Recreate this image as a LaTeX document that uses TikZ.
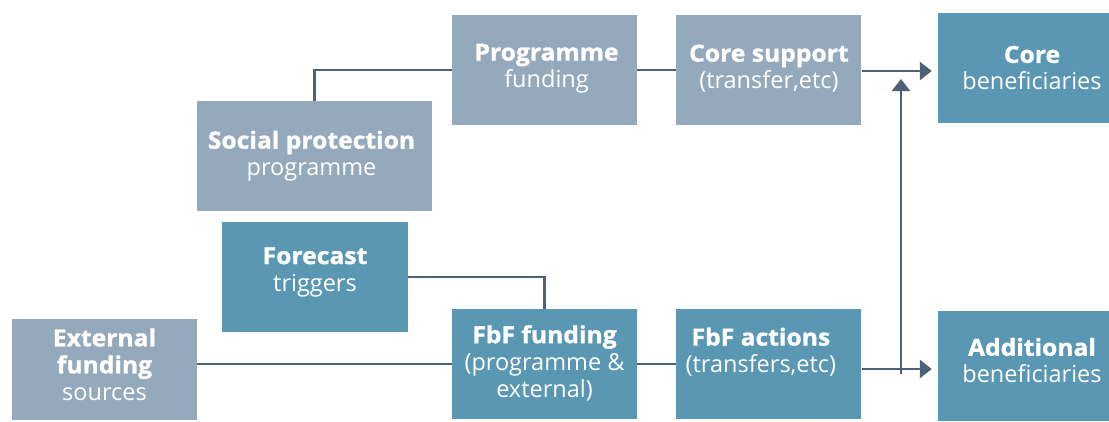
\documentclass[tikz,border=0pt]{standalone}
\usepackage{fontspec}
\setmainfont{Open Sans}[BoldFeatures={FakeBold=1.2,FakeStretch=1.05}]
\usetikzlibrary{positioning,arrows.meta}
\definecolor{greyfill}{HTML}{95A9BC}
\definecolor{tealfill}{HTML}{5A97B3}
\definecolor{linkcol}{HTML}{4F6179}
\tikzset{
  box/.style={rectangle, inner sep=0pt, minimum height=110pt},
  box text/.style={text=white, align=center, inner sep=0pt, font=\fontsize{23.5}{27}\selectfont},
  grey box/.style={box, fill=greyfill, minimum width=185pt},
  teal box/.style={box, fill=tealfill, minimum width=185pt},
  link/.style={draw=linkcol, line width=2.7pt},
  arrow/.style={link, -{Triangle[length=12pt,width=18pt]}}
}
\begin{document}
\begin{tikzpicture}[x=1pt, y=-1pt]
                \useasboundingbox (0,0) rectangle (1109,421);

                % top row
                \node[grey box, minimum width=235pt, label={[box text, xshift=-3pt]center:{\textbf{Social protection}\\programme}}] (sp) at (314.5,156) {};
                \node[grey box, label={[box text, xshift=2pt, yshift=1.5pt]center:{\textbf{Programme}\\funding}}] (pf) at (544.5,70) {};
                \node[grey box, right=39pt of pf, label={[box text, yshift=1.5pt]center:{\textbf{Core support}\\(transfer,etc)}}] (cs) {};
                \node[teal box, minimum width=188pt, label={[box text]center:{\textbf{Core}\\beneficiaries}}] (cb) at (1032,68) {};

                % bottom row
                \node[teal box, minimum width=186pt, label={[box text, yshift=5pt]center:{\textbf{Forecast}\\triggers}}] (ft) at (315,277) {};
                \node[grey box, minimum height=101pt, label={[box text, yshift=5pt]center:{\textbf{External}\\\textbf{funding}\\sources}}] (ef) at (104.5,369.5) {};
                \node[teal box, label={[box text, yshift=1pt]center:{\textbf{FbF funding}\\(programme \&\\external)}}] (ff) at (544.5,364) {};
                \node[teal box, right=39pt of ff, label={[box text, xshift=-8pt, yshift=12pt]center:{\textbf{FbF actions}\\(transfers,etc)}}] (fa) {};
                \node[teal box, minimum width=188pt, label={[box text, yshift=5.5pt]center:{\textbf{Additional}\\beneficiaries}}] (ab) at (1032,366) {};

                \coordinate (join) at (901,369);
                \coordinate (jointop) at (901,79);

                \draw[link] (sp.north) |- (pf.west);
                \draw[link] (pf.east) -- (cs.west);
                \draw[arrow, shorten >=6pt] (cs.east |- 0,71) -- (cb.west |- 0,71);
                \draw[link] (ft.east) -| (ff.north);
                \draw[link] (ef.east |- ff.west) -- (ff.west);
                \draw[link] (ff.east) -- (fa.west);
                \draw[arrow, shorten >=6pt] (fa.east |- join) -- (ab.west |- join);
                \draw[arrow] ([yshift=-5pt]join) -- (jointop);
            \end{tikzpicture}
\end{document}
